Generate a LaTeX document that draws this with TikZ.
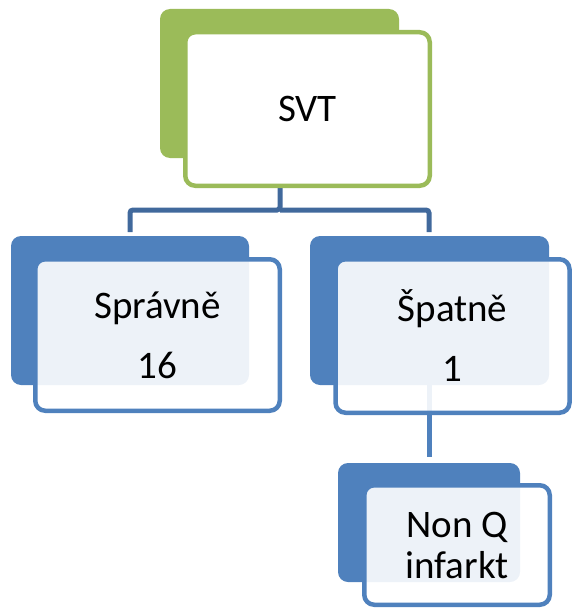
\documentclass[tikz,border=0pt]{standalone}
\usepackage{fontspec}
\setmainfont{Carlito}
\definecolor{leafgreen}{HTML}{9BBB59}
\definecolor{boxblue}{HTML}{4F81BD}
\definecolor{linkblue}{HTML}{41699C}
\tikzset{
  back/.style={rectangle, rounded corners=10pt, inner sep=0pt, outer sep=0pt, draw=none},
  front/.style={rectangle, rounded corners=10pt, inner sep=0pt, outer sep=0pt, line width=4.5pt,
    fill=white, fill opacity=0.9, text opacity=1, align=center, font=\fontsize{39}{60}\selectfont},
  link/.style={line width=5pt, rounded corners=3pt}
}
\begin{document}
\begin{tikzpicture}[x=1pt,y=-1pt]
\useasboundingbox (0,0) rectangle (572,610);

% connectors
\coordinate (bar) at (280,210);
\draw[link, draw=linkblue] (280,186) -- (bar) -| (130,232);
\draw[link, draw=linkblue] (bar) -| (429,232);
\draw[line width=5pt, draw=boxblue] (429,385) -- (429,457);

% back shapes
\node[back, fill=leafgreen, minimum width=239pt, minimum height=149pt] (svtback) at (279.5,83.5) {};
\node[back, fill=boxblue, minimum width=238pt, minimum height=149pt] (okback) at (130,310.5) {};
\node[back, fill=boxblue, minimum width=239pt, minimum height=149pt] (badback) at (429.5,310.5) {};
\node[back, fill=boxblue, minimum width=182pt, minimum height=119pt] (nqback) at (429,522.5) {};

% front boxes
\node[front, draw=leafgreen, fill opacity=1, minimum width=244.5pt, minimum height=153.5pt] (svt) at (307.5,109) {SVT};
\node[front, draw=boxblue, minimum width=244.5pt, minimum height=151.5pt] (ok) at (157.5,335) {Správně\\16};
\node[front, draw=boxblue, minimum width=234pt, minimum height=153.5pt] (bad) at (452.5,336) {Špatně\\1};
\node[front, draw=boxblue, minimum width=185.5pt, minimum height=119.5pt,
  font=\fontsize{39}{41}\selectfont] (nq) at (457,545) {Non Q\\infarkt};
\end{tikzpicture}
\end{document}
